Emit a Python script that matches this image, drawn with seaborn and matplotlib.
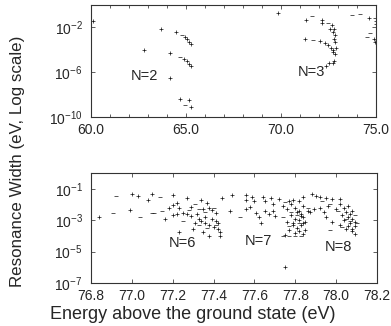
import numpy as np
import pandas as pd
import matplotlib
matplotlib.use("Agg")
import matplotlib.pyplot as plt
import matplotlib.ticker as mticker
import seaborn as sns

# ---- data: energy (eV) and log10 of resonance width (eV) ----
# upper panel, N=2 and N=3 series
top_plus_e = [60.10, 62.77, 63.70, 64.46, 64.95, 65.07, 65.17, 65.26, 64.14, 64.90,
              65.03, 65.14, 65.26, 64.14, 64.70, 65.17, 65.24,
              69.86, 71.32, 72.17, 72.17, 72.68, 72.58, 72.79, 72.75, 72.84, 72.80,
              72.84, 71.26, 72.05, 72.32, 72.49, 72.63, 72.76, 72.88, 72.72, 72.84,
              72.79, 72.72, 72.54, 72.37, 74.65, 74.98, 74.98, 74.90, 74.96]
top_plus_logw = [-1.46, -4.00, -2.10, -2.45, -2.90, -3.07, -3.28, -3.46, -4.26, -4.80,
                 -5.00, -5.25, -5.45, -6.55, -8.37, -8.50, -9.10,
                 -0.75, -1.35, -1.35, -1.64, -1.80, -2.10, -2.18, -2.40, -2.70, -3.00,
                 -3.30, -3.00, -3.22, -3.37, -3.60, -3.80, -4.00, -3.80, -4.20, -4.35,
                 -5.00, -5.15, -5.20, -5.45, -1.13, -1.40, -1.70, -3.00, -3.30]
top_dash_e = [64.80, 64.70, 64.95, 71.65, 72.45, 71.70, 73.75, 74.16, 74.96, 74.68, 74.50]
top_dash_logw = [-2.70, -4.60, -8.96, -1.00, -1.64, -3.13, -0.90, -0.80, -1.20, -2.47, -2.85]

# lower panel, N=6, 7, 8 series
bot_plus_e = [76.84, 77.00, 77.03, 77.08, 77.10, 76.99, 77.16, 77.18, 77.20, 77.20,
              77.22, 77.23, 77.20, 77.22, 77.25, 77.23, 77.27, 77.29, 77.34, 77.37,
              77.35, 77.38, 77.39, 77.41, 77.27, 77.29, 77.32, 77.36, 77.39, 77.41,
              77.34, 77.38, 77.40, 77.42, 77.43, 77.43, 77.38, 77.31, 77.30, 77.35,
              77.44, 77.49, 77.48, 77.56, 77.56, 77.56, 77.58, 77.59, 77.60, 77.61,
              77.62, 77.63, 77.64, 77.65, 77.65, 77.67, 77.68, 77.69, 77.69, 77.70,
              77.72, 77.77, 77.79, 77.82, 77.74, 77.76, 77.78, 77.80, 77.82, 77.84,
              77.83, 77.78, 77.80, 77.82, 77.84, 77.76, 77.79, 77.81, 77.83, 77.85,
              77.84, 77.80, 77.77, 77.75, 77.86, 77.85, 77.75,
              77.88, 77.90, 77.92, 77.95, 77.98, 78.02, 77.87, 77.89, 77.92, 77.94,
              77.96, 78.00, 78.02, 78.04, 78.06, 78.05, 78.08, 78.03, 78.06, 78.08,
              78.04, 78.07, 78.09, 78.02, 78.05, 78.08, 78.09, 77.98, 77.95, 77.84,
              77.81, 77.83, 77.79, 77.84, 77.82, 78.07, 78.09, 78.06, 78.08, 77.42,
              77.36, 77.33]
bot_plus_logw = [-2.83, -1.33, -1.48, -1.69, -1.33, -2.35, -2.94, -2.20, -1.37, -2.04,
                 -1.90, -2.20, -2.67, -2.63, -2.52, -3.77, -1.58, -2.17, -1.73, -1.94,
                 -2.27, -2.20, -2.35, -2.52, -2.63, -2.73, -2.63, -2.83, -2.94, -3.04,
                 -3.04, -3.31, -3.46, -3.56, -3.77, -3.98, -4.02, -3.15, -3.56, -3.77,
                 -1.58, -1.42, -2.42, -1.42, -1.69, -2.31, -2.17, -1.52, -1.79, -2.52,
                 -2.83, -3.15, -1.52, -1.79, -2.42, -2.58, -1.58, -1.96, -2.42, -2.73,
                 -1.65, -1.79, -1.69, -1.75, -2.10, -2.30, -2.00, -2.20, -2.40, -2.10,
                 -2.60, -2.70, -2.90, -3.00, -2.80, -3.10, -3.30, -3.50, -3.30, -3.60,
                 -3.90, -3.80, -3.60, -3.95, -2.40, -3.10, -5.96,
                 -1.35, -1.45, -1.55, -1.60, -1.65, -1.65, -2.45, -2.30, -2.20, -2.45,
                 -2.10, -2.30, -2.00, -2.20, -2.10, -2.50, -2.40, -2.70, -2.80, -2.90,
                 -3.00, -3.20, -3.40, -3.30, -3.55, -3.70, -3.90, -3.10, -2.80, -1.50,
                 -2.50, -2.75, -3.15, -3.20, -3.70, -2.60, -3.10, -3.35, -3.55, -3.20,
                 -3.15, -2.95]
bot_dash_e = [76.91, 76.92, 77.14, 77.04, 77.10, 77.11, 77.15, 77.25, 77.31, 77.33,
              77.40, 77.53, 77.28, 77.36, 77.33, 77.37, 77.41, 77.75, 77.78, 77.81,
              77.74, 77.77, 77.82, 77.74, 77.77, 77.80, 77.83, 77.86, 77.93, 77.97,
              78.01, 78.05, 78.03, 77.97, 78.07, 78.09, 78.10]
bot_dash_logw = [-2.56, -1.48, -1.52, -2.83, -2.56, -2.55, -2.42, -3.08, -2.00, -2.31,
                 -2.25, -2.79, -2.35, -2.45, -3.30, -3.50, -3.30, -1.85, -2.50, -2.65,
                 -2.80, -3.40, -3.20, -4.00, -4.02, -4.02, -4.00, -2.20, -1.75, -2.00,
                 -2.40, -2.95, -3.45, -3.60, -3.05, -2.65, -3.20]

# threshold labels: text, energy, log10 width
top_labels = [("N=2", 62.8, -6.3), ("N=3", 71.6, -6.0)]
bot_labels = [("N=6", 77.25, -4.45), ("N=7", 77.62, -4.3), ("N=8", 78.01, -4.7)]

sns.set_style("ticks")
plt.rcParams["font.family"] = ["Liberation Sans", "DejaVu Sans"]
plt.rcParams["mathtext.default"] = "regular"
plt.rcParams["axes.linewidth"] = 0.8

fig = plt.figure(figsize=(3.91, 3.26), dpi=100)
ax1 = fig.add_axes([0.2327, 0.641, 0.729, 0.3437])
ax2 = fig.add_axes([0.2327, 0.1319, 0.7315, 0.3374])


def draw(ax, pe, pl, de, dl):
    plus = pd.DataFrame({"E": pe, "W": np.power(10.0, pl)})
    dash = pd.DataFrame({"E": de, "W": np.power(10.0, dl)})
    sns.scatterplot(data=plus, x="E", y="W", marker="+", color="#111111",
                    s=9, linewidth=0.5, ax=ax)
    sns.scatterplot(data=dash, x="E", y="W", marker="_", color="#111111",
                    s=9, linewidth=0.5, ax=ax)
    ax.set_yscale("log")
    ax.set_xlabel("")
    ax.set_ylabel("")


draw(ax1, top_plus_e, top_plus_logw, top_dash_e, top_dash_logw)
draw(ax2, bot_plus_e, bot_plus_logw, bot_dash_e, bot_dash_logw)

# upper axes
ax1.set_xlim(60, 75)
ax1.set_ylim(1e-10, 1)
ax1.set_xticks([60, 65, 70, 75])
ax1.set_xticklabels(["60.0", "65.0", "70.0", "75.0"])
ax1.xaxis.set_minor_locator(mticker.MultipleLocator(1))
ax1.set_yticks([1e-2, 1e-6, 1e-10])
ax1.yaxis.set_minor_locator(mticker.NullLocator())

# lower axes
ax2.set_xlim(76.8, 78.2)
ax2.set_ylim(1e-7, 1)
xt = [76.8, 77.0, 77.2, 77.4, 77.6, 77.8, 78.0, 78.2]
ax2.set_xticks(xt)
ax2.set_xticklabels([f"{v:.1f}" for v in xt])
ax2.set_yticks([1e-1, 1e-3, 1e-5, 1e-7])
ax2.yaxis.set_minor_locator(mticker.NullLocator())

for ax in (ax1, ax2):
    ax.yaxis.set_major_formatter(mticker.LogFormatterSciNotation())
    ax.tick_params(which="both", direction="in", top=True, right=True,
                   labelsize=10, width=0.6, color="#444444")
    ax.tick_params(axis="x", pad=4)
    ax.tick_params(axis="y", pad=6)
    ax.tick_params(which="major", length=3)
    ax.tick_params(which="minor", length=2)
    for sp in ax.spines.values():
        sp.set_color("#333333")

for txt, e, lw in top_labels:
    ax1.text(e, 10 ** lw, txt, ha="center", va="center", fontsize=10.5)
for txt, e, lw in bot_labels:
    ax2.text(e, 10 ** lw, txt, ha="center", va="center", fontsize=10.5)

fig.text(0.046, 0.506, "Resonance Width (eV, Log scale)", rotation=90,
         ha="center", va="center", fontsize=12.2)
fig.text(0.494, 0.036, "Energy above the ground state (eV)",
         ha="center", va="center", fontsize=13)

fig.savefig("out.png", dpi=100)
